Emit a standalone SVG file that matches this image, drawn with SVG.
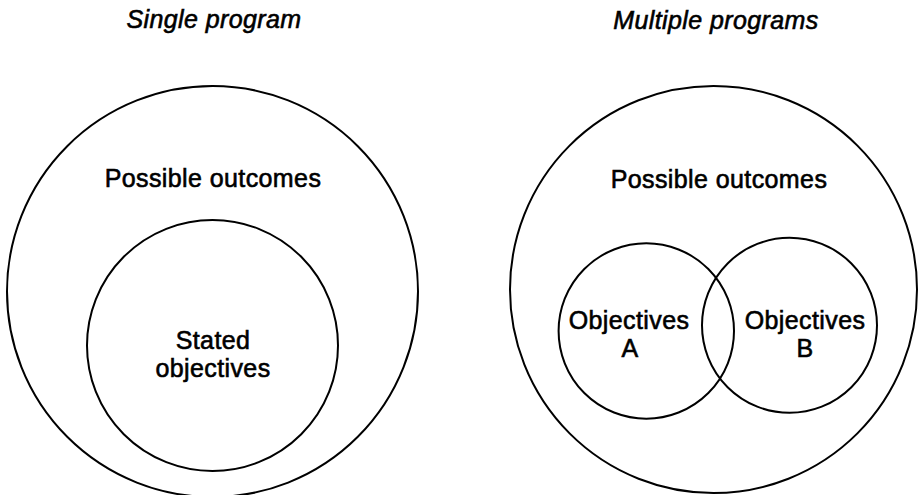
<svg xmlns="http://www.w3.org/2000/svg" width="921" height="495" viewBox="0 0 921 495">
  <style>
    .ring { fill: none; stroke: #000; stroke-width: 2; }
    .label { font-family: "Liberation Sans", Arial, Helvetica, sans-serif; font-size: 25px; letter-spacing: 0.4px; fill: #000; stroke: #000; stroke-width: 0.6px; text-anchor: middle; }
    .title { font-style: italic; }
  </style>
  <rect width="921" height="495" fill="#fff"/>

  <!-- Left panel: a single program -->
  <g id="single-title">
    <text class="label title" x="214" y="28">Single program</text>
  </g>
  <g id="single-outcomes">
    <circle class="ring" cx="212.5" cy="291.5" r="205.5"/>
    <text class="label" x="213" y="187">Possible outcomes</text>
  </g>
  <g id="single-objectives">
    <circle class="ring" cx="212.5" cy="345.5" r="125.5"/>
    <text class="label" x="213" y="349">Stated</text>
    <text class="label" x="213" y="377">objectives</text>
  </g>

  <!-- Right panel: multiple programs -->
  <g id="multiple-title">
    <text class="label title" x="716" y="29">Multiple programs</text>
  </g>
  <g id="multiple-outcomes">
    <circle class="ring" cx="713.5" cy="289.5" r="203.5"/>
    <text class="label" x="719" y="188">Possible outcomes</text>
  </g>
  <g id="objectives-a">
    <circle class="ring" cx="646.3" cy="331" r="87.7"/>
    <text class="label" x="629" y="329">Objectives</text>
    <text class="label" x="630" y="357">A</text>
  </g>
  <g id="objectives-b">
    <circle class="ring" cx="789.5" cy="325.3" r="87.5"/>
    <text class="label" x="805" y="329">Objectives</text>
    <text class="label" x="805" y="357">B</text>
  </g>

  <g id="connectors"></g>
</svg>
